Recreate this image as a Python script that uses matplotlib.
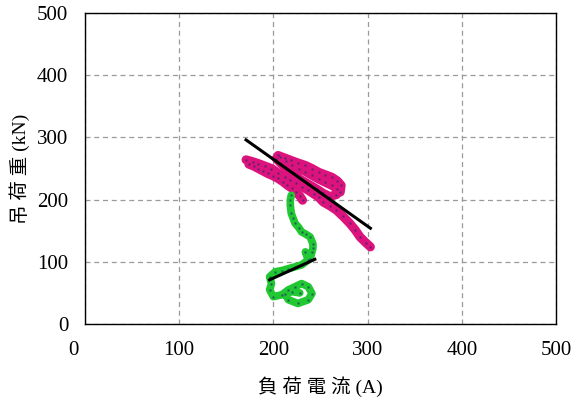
import matplotlib.pyplot as plt
from matplotlib.transforms import ScaledTranslation

# 吊荷重 vs 負荷電流 measurements
# outer pink strand (hoisting)
outer_i = [171, 178, 184, 191, 198, 205, 212, 218, 224, 230, 237, 243, 248, 253, 260, 267, 274, 281, 287, 292, 298, 303]
outer_w = [264, 261, 258, 254, 250, 243, 236, 231, 226, 221, 215, 209, 204, 196, 190, 183, 173, 162, 151, 140, 131, 124]

# inner pink strand
inner_i = [174, 179, 184, 189, 194, 200, 205, 210, 215, 220, 224, 228, 231]
inner_w = [257, 254, 250, 246, 242, 238, 234, 229, 223, 218, 212, 206, 199]

# upper pink cluster: top edge, middle and bottom edge
top_i = [205, 212, 219, 226, 234, 241, 248, 255, 262, 268, 272, 271]
top_w = [271, 267, 263, 259, 255, 250, 244, 240, 236, 230, 223, 212]
mid_i = [207, 213, 220, 227, 234, 241, 248, 255, 262, 268]
mid_w = [268, 262, 256, 250, 245, 239, 233, 228, 223, 217]
bot_i = [203, 208, 214, 221, 228, 237, 246, 253, 260, 267]
bot_w = [266, 258, 250, 242, 233, 225, 217, 210, 205, 208]

# green trace (lowering)
green_i = [219, 218, 218, 219, 221, 223, 227, 230, 235, 239, 242, 242, 241, 239,
           234, 237, 230, 223, 216, 209, 202, 196, 198, 196, 200, 209, 216, 223,
           230, 237, 241, 237, 226, 216, 212, 220, 228]
green_w = [207, 199, 191, 178, 170, 162, 155, 148, 144, 140, 129, 122, 116, 105,
           116, 103, 95, 92, 89, 86, 84, 76, 65, 55, 44, 47, 55, 60,
           65, 60, 49, 39, 33, 39, 49, 52, 50]

# fitted lines
fit1_i = [171, 303]
fit1_w = [296, 154]
fit2_i = [196, 244]
fit2_w = [71, 104]

xticks = [0, 100, 200, 300, 400, 500]
yticks = [0, 100, 200, 300, 400, 500]

pink = '#dc137c'
pink_edge = '#5a2270'
green = '#22c832'
green_edge = '#1a5a5a'

plt.rcParams['font.family'] = 'serif'
plt.rcParams['font.serif'] = ['Liberation Serif', 'DejaVu Serif']
label_font = ['Liberation Serif', 'Noto Sans CJK JP']

fig = plt.figure(figsize=(5.74, 4.03), dpi=100)
ax = fig.add_axes([0.148, 0.196, 0.8206, 0.7717])

strands = [(outer_i, outer_w), (inner_i, inner_w), (top_i, top_w), (mid_i, mid_w), (bot_i, bot_w)]
for xs, ys in strands:
    ax.plot(xs, ys, color=pink, lw=6.5, solid_capstyle='round', solid_joinstyle='round', zorder=3)
for xs, ys in strands:
    ax.plot(xs, ys, ls='none', marker='s', ms=1.6, mfc=pink_edge, mec='none', zorder=4)

ax.plot(green_i, green_w, color=green, lw=5.5, solid_capstyle='round', solid_joinstyle='round', zorder=3)
ax.plot(green_i, green_w, ls='none', marker='s', ms=1.5, mfc=green_edge, mec='none', zorder=4)

ax.plot(fit1_i, fit1_w, color='black', lw=2.2, zorder=5)
ax.plot(fit2_i, fit2_w, color='black', lw=2.2, zorder=5)

ax.set_xlim(0, 500)
ax.set_ylim(0, 500)
ax.set_xticks(xticks)
ax.set_yticks(yticks)
ax.tick_params(length=0, labelsize=15, pad=12)
ax.grid(True, color='#9a9a9a', ls=(0, (4, 3)), lw=0.9)
for s in ax.spines.values():
    s.set_color('black')
    s.set_linewidth(1)

# push the first x label a little to the left
t0 = ax.xaxis.get_major_ticks()[0]
t0.label1.set_transform(t0.label1.get_transform() + ScaledTranslation(-12 / 100, 0, fig.dpi_scale_trans))

ax.set_xlabel('負 荷 電 流 (A)', fontsize=14, labelpad=12, family=label_font)
ax.set_ylabel('吊 荷 重 (kN)', fontsize=14, labelpad=5, family=label_font)

fig.savefig('out.png', dpi=100)
